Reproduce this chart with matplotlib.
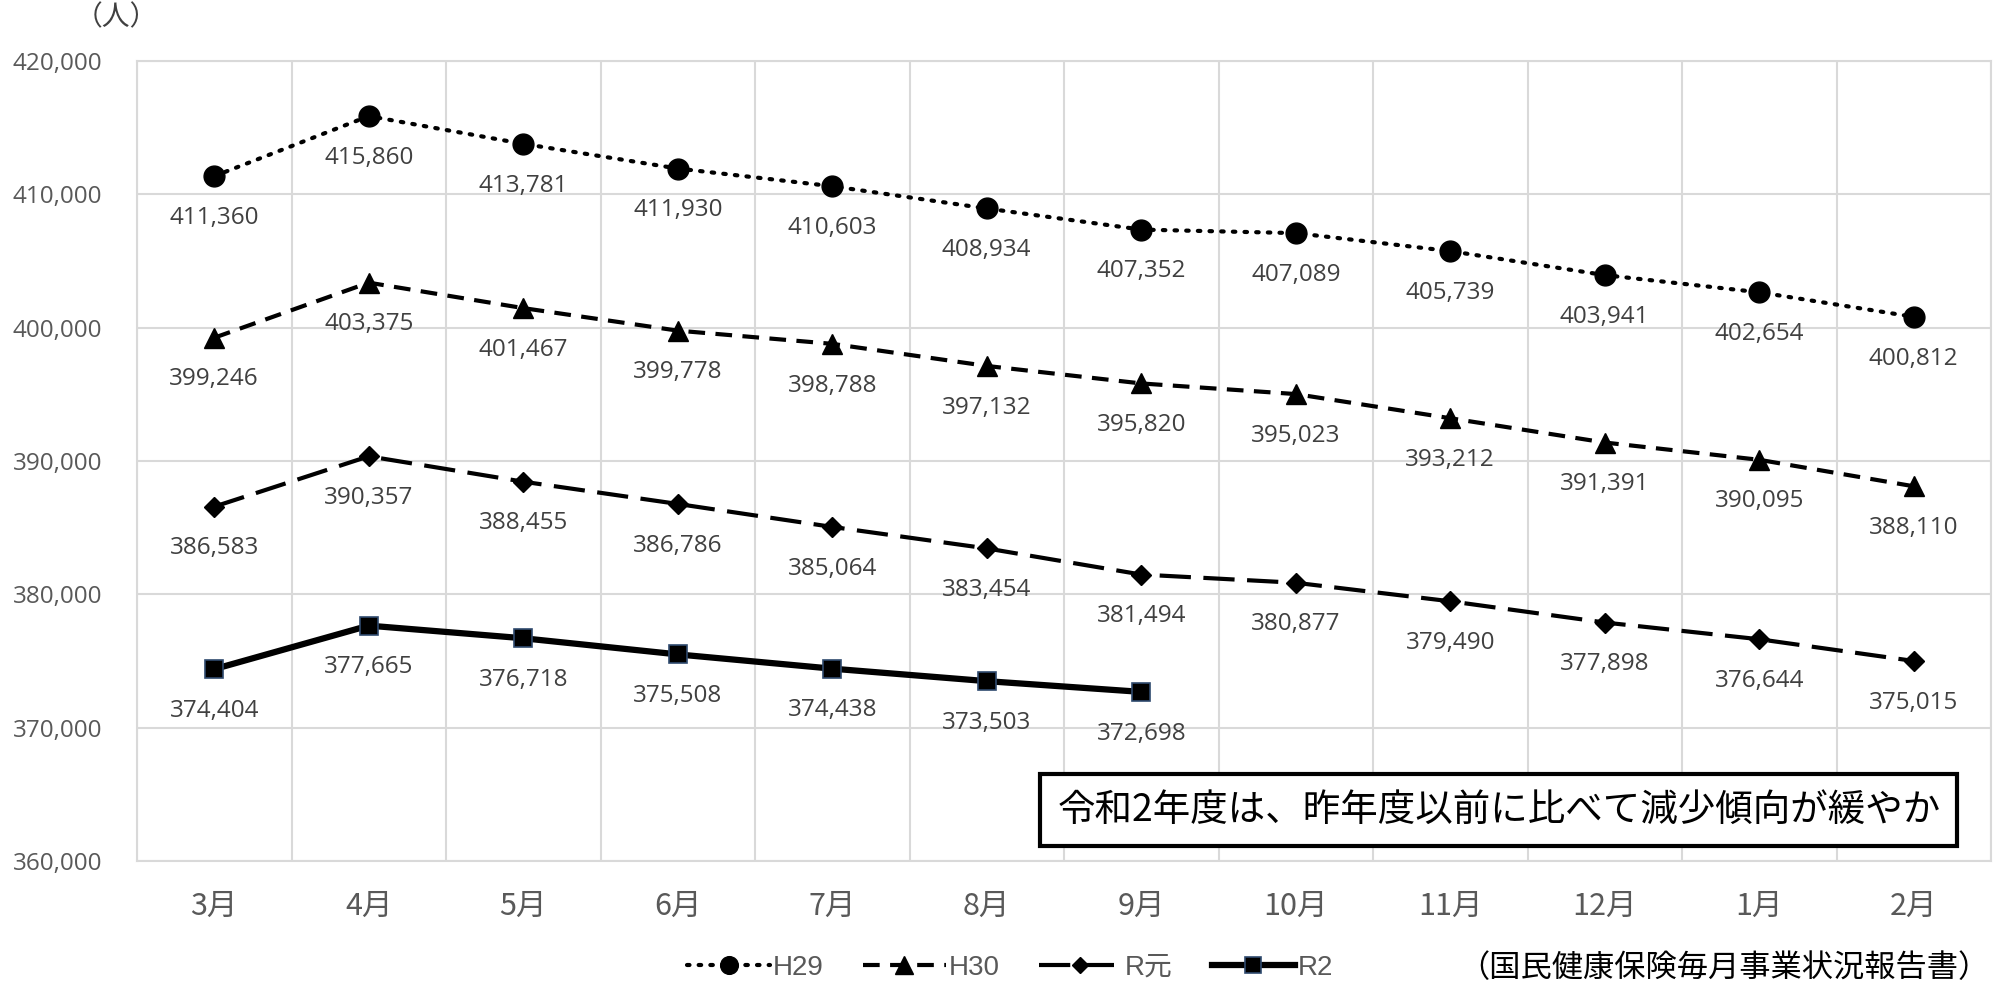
import matplotlib
matplotlib.use("Agg")
import matplotlib.pyplot as plt
from matplotlib.ticker import FuncFormatter, MultipleLocator

plt.rcParams['font.family'] = ['Open Sans', 'Noto Sans CJK JP', 'DejaVu Sans']

months = ["3月", "4月", "5月", "6月", "7月", "8月", "9月", "10月", "11月", "12月", "1月", "2月"]
h29 = [411360, 415860, 413781, 411930, 410603, 408934, 407352, 407089, 405739, 403941, 402654, 400812]
h30 = [399246, 403375, 401467, 399778, 398788, 397132, 395820, 395023, 393212, 391391, 390095, 388110]
r1 = [386583, 390357, 388455, 386786, 385064, 383454, 381494, 380877, 379490, 377898, 376644, 375015]
r2 = [374404, 377665, 376718, 375508, 374438, 373503, 372698]
series_names = ["H29", "H30", "R元", "R2"]

fig = plt.figure(figsize=(20, 9.98), dpi=100)
ax = fig.add_axes([0.0685, 0.137, 0.927, 0.802])

x = list(range(len(months)))
styles = [
    dict(linestyle=(0, (0.6, 2.2)), dash_capstyle='round', marker='o', markersize=15, lw=3),
    dict(linestyle=(0, (4, 2.5)), marker='^', markersize=15, lw=3),
    dict(linestyle=(0, (7.5, 3)), marker='D', markersize=10, lw=3),
    dict(linestyle='-', marker='s', markersize=13, lw=4.5, markeredgecolor='#2F4A6E', markeredgewidth=1.2),
]
data = [h29, h30, r1, r2]
for vals, name, st in zip(data, series_names, styles):
    xs = x[:len(vals)]
    kw = dict(st)
    kw.setdefault('markeredgecolor', 'black')
    ax.plot(xs, vals, color='black', markerfacecolor='black', label=name, zorder=3, **kw)
    for xi, v in zip(xs, vals):
        ax.annotate(f"{v:,}", (xi, v), xytext=(0, -30), textcoords='offset points',
                    ha='center', va='center', fontsize=17.5, color='#404040', zorder=4)

ax.set_xlim(-0.5, len(months) - 0.5)
ax.set_ylim(360000, 420000)
ax.yaxis.set_major_locator(MultipleLocator(10000))
ax.yaxis.set_major_formatter(FuncFormatter(lambda v, p: f"{int(v):,}"))
ax.set_xticks(x)
ax.set_xticklabels(months)
ax.set_xticks([i - 0.5 for i in range(len(months) + 1)], minor=True)
ax.grid(True, axis='y', which='major', color='#D9D9D9', lw=1.5)
ax.grid(True, axis='x', which='minor', color='#D9D9D9', lw=1.5)
ax.grid(False, axis='x', which='major')
ax.tick_params(axis='both', which='both', length=0, colors='#595959')
ax.tick_params(axis='y', labelsize=17.5, pad=25)
ax.tick_params(axis='x', which='major', pad=21, labelsize=22, labelfontfamily='Noto Sans CJK JP')
for s in ax.spines.values():
    s.set_color('#D9D9D9')
    s.set_linewidth(1.5)
ax.set_axisbelow(True)

fig.text(0.058, 0.983, "（人）", fontsize=20, color='#404040', ha='center', va='center',
         family=['Noto Sans CJK JP'])

ax.text(0.7346, 0.064, "令和2年度は、昨年度以前に比べて減少傾向が緩やか", transform=ax.transAxes,
        fontsize=27, ha='center', va='center', family=['Noto Sans CJK JP'], color='black',
        bbox=dict(boxstyle='square,pad=0.45', fc='white', ec='black', lw=3), zorder=5)

leg = fig.legend(loc='center', bbox_to_anchor=(0.505, 0.030), ncol=4, frameon=False,
                 handlelength=3.0, columnspacing=1.4, handletextpad=0.1,
                 markerscale=0.85, prop={'family': ['Liberation Sans', 'Noto Sans CJK JP'], 'size': 20})
for t in leg.get_texts():
    t.set_color('#595959')

fig.text(0.995, 0.030, "（国民健康保険毎月事業状況報告書）", fontsize=22.5, ha='right', va='center',
         family=['Noto Sans CJK JP'], color='black')

fig.savefig("out.png", dpi=100, facecolor='white')
